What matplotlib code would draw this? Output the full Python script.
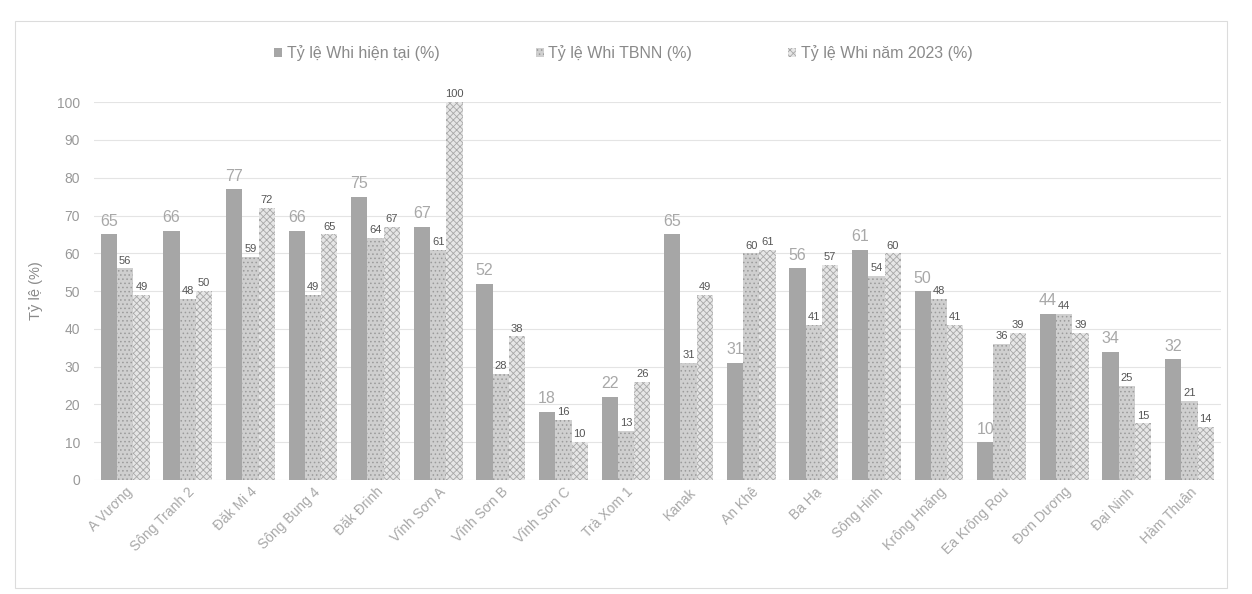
import numpy as np
import matplotlib
matplotlib.use("Agg")
import matplotlib.pyplot as plt
from matplotlib.patches import Rectangle

plt.rcParams['font.family'] = ['Liberation Sans', 'DejaVu Sans']
plt.rcParams['hatch.linewidth'] = 0.6

stations = ["A Vương", "Sông Tranh 2", "Đăk Mi 4", "Sông Bung 4", "Đăk Đrinh",
            "Vĩnh Sơn A", "Vĩnh Sơn B", "Vĩnh Sơn C", "Trà Xom 1", "Kanak",
            "An Khê", "Ba Hạ", "Sông Hinh", "Krông Hnăng", "Ea Krông Rou",
            "Đơn Dương", "Đại Ninh", "Hàm Thuận"]
whi_now = [65, 66, 77, 66, 75, 67, 52, 18, 22, 65, 31, 56, 61, 50, 10, 44, 34, 32]
whi_tbnn = [56, 48, 59, 49, 64, 61, 28, 16, 13, 31, 60, 41, 54, 48, 36, 44, 25, 21]
whi_2023 = [49, 50, 72, 65, 67, 100, 38, 10, 26, 49, 61, 57, 60, 41, 39, 39, 15, 14]
series_names = ["Tỷ lệ Whi hiện tại (%)", "Tỷ lệ Whi TBNN (%)", "Tỷ lệ Whi năm 2023 (%)"]

fig = plt.figure(figsize=(12.52, 5.94), dpi=100)
ax = fig.add_axes([0.075, 0.192, 0.900, 0.636])

# outer chart frame
fig.patches.append(Rectangle((0.012, 0.01), 0.968, 0.955, transform=fig.transFigure,
                             fill=False, edgecolor="#dcdcdc", lw=0.8))

x = np.arange(len(stations))
w = 0.26
b1 = ax.bar(x - w, whi_now, w, color="#a6a6a6", lw=0, label=series_names[0])
b2 = ax.bar(x, whi_tbnn, w, color="#cfcfcf", edgecolor="#9a9a9a", hatch="....",
            lw=0, label=series_names[1])
b3 = ax.bar(x + w, whi_2023, w, color="#e6e6e6", edgecolor="#a8a8a8", hatch="xxxxx",
            lw=0, label=series_names[2])

ax.bar_label(b1, padding=4, fontsize=11.5, color="#a8a8a8")
ax.bar_label(b2, padding=2, fontsize=8, color="#555555")
ax.bar_label(b3, padding=2, fontsize=8, color="#555555")

ax.set_xlim(-0.5, len(stations) - 0.5)
ax.set_ylim(0, 100)
ax.set_yticks(range(0, 101, 10))
ax.yaxis.grid(True, color="#e4e4e4", lw=0.8)
ax.set_axisbelow(True)
for s in ax.spines.values():
    s.set_visible(False)
ax.tick_params(length=0, colors="#999999", labelsize=10)
ax.tick_params(axis="y", pad=10)
ax.set_xticks(x)
ax.set_xticklabels(stations, rotation=45, ha="right", rotation_mode="anchor",
                   fontsize=10, color="#a8a8a8")
ax.set_ylabel("Tỷ lệ (%)", color="#8a8a8a", fontsize=10.5, labelpad=10)

ax.legend(loc="lower center", bbox_to_anchor=(0.47, 1.07), ncol=3, frameon=False,
          fontsize=11.5, labelcolor="#8a8a8a", handlelength=0.5, handleheight=0.5,
          handletextpad=0.3, columnspacing=6.0)

fig.savefig("out.png", dpi=100, facecolor="white")
